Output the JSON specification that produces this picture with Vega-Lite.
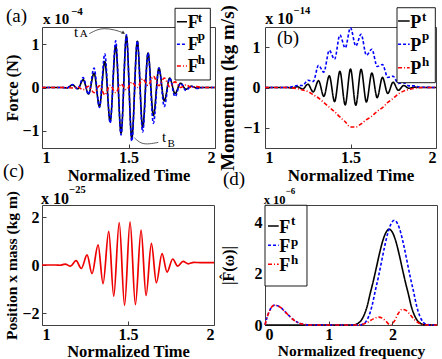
{
  "$schema": "https://vega.github.io/schema/vega-lite/v6.json",
  "background": "white",
  "padding": 0,
  "bounds": "flush",
  "columns": 2,
  "spacing": {"row": 57, "column": 50},
  "resolve": {"scale": {"color": "independent", "strokeDash": "independent"}},
  "datasets": {
    "fa": [
      {"s":"Fᵗ","t":1.0,"v":0},{"s":"Fᵗ","t":1.12,"v":0},{"s":"Fᵗ","t":1.145,"v":-0.01},{"s":"Fᵗ","t":1.176,"v":0.06},{"s":"Fᵗ","t":1.207,"v":-0.03},{"s":"Fᵗ","t":1.238,"v":0.18},{"s":"Fᵗ","t":1.269,"v":-0.15},{"s":"Fᵗ","t":1.301,"v":0.33},{"s":"Fᵗ","t":1.332,"v":-0.44},{"s":"Fᵗ","t":1.363,"v":0.6},{"s":"Fᵗ","t":1.394,"v":-0.79},{"s":"Fᵗ","t":1.426,"v":0.97},{"s":"Fᵗ","t":1.457,"v":-1.06},{"s":"Fᵗ","t":1.488,"v":1.19},{"s":"Fᵗ","t":1.519,"v":-1.18},{"s":"Fᵗ","t":1.551,"v":1.07},{"s":"Fᵗ","t":1.582,"v":-0.93},{"s":"Fᵗ","t":1.613,"v":0.8},{"s":"Fᵗ","t":1.644,"v":-0.65},{"s":"Fᵗ","t":1.676,"v":0.45},{"s":"Fᵗ","t":1.707,"v":-0.31},{"s":"Fᵗ","t":1.738,"v":0.22},{"s":"Fᵗ","t":1.769,"v":-0.14},{"s":"Fᵗ","t":1.801,"v":0.1},{"s":"Fᵗ","t":1.832,"v":-0.04},{"s":"Fᵗ","t":1.863,"v":0.03},{"s":"Fᵗ","t":1.894,"v":-0.01},{"s":"Fᵗ","t":1.93,"v":0},{"s":"Fᵗ","t":2.0,"v":0},
      {"s":"Fᵖ","t":1.0,"v":0},{"s":"Fᵖ","t":1.12,"v":0},{"s":"Fᵖ","t":1.145,"v":-0.01},{"s":"Fᵖ","t":1.176,"v":0.07},{"s":"Fᵖ","t":1.207,"v":-0.03},{"s":"Fᵖ","t":1.238,"v":0.23},{"s":"Fᵖ","t":1.269,"v":-0.16},{"s":"Fᵖ","t":1.301,"v":0.45},{"s":"Fᵖ","t":1.332,"v":-0.46},{"s":"Fᵖ","t":1.363,"v":0.78},{"s":"Fᵖ","t":1.394,"v":-0.82},{"s":"Fᵖ","t":1.426,"v":1.08},{"s":"Fᵖ","t":1.457,"v":-1.1},{"s":"Fᵖ","t":1.488,"v":1.22},{"s":"Fᵖ","t":1.519,"v":-1.24},{"s":"Fᵖ","t":1.551,"v":1.08},{"s":"Fᵖ","t":1.582,"v":-1.03},{"s":"Fᵖ","t":1.613,"v":0.8},{"s":"Fᵖ","t":1.644,"v":-0.83},{"s":"Fᵖ","t":1.676,"v":0.45},{"s":"Fᵖ","t":1.707,"v":-0.44},{"s":"Fᵖ","t":1.738,"v":0.22},{"s":"Fᵖ","t":1.769,"v":-0.21},{"s":"Fᵖ","t":1.801,"v":0.1},{"s":"Fᵖ","t":1.832,"v":-0.07},{"s":"Fᵖ","t":1.863,"v":0.03},{"s":"Fᵖ","t":1.894,"v":-0.02},{"s":"Fᵖ","t":1.93,"v":0},{"s":"Fᵖ","t":2.0,"v":0},
      {"s":"Fʰ","t":1.0,"v":0},{"s":"Fʰ","t":1.12,"v":0},{"s":"Fʰ","t":1.176,"v":-0.01},{"s":"Fʰ","t":1.207,"v":0.01},{"s":"Fʰ","t":1.238,"v":-0.05},{"s":"Fʰ","t":1.269,"v":0.03},{"s":"Fʰ","t":1.301,"v":-0.12},{"s":"Fʰ","t":1.332,"v":0.04},{"s":"Fʰ","t":1.363,"v":-0.17},{"s":"Fʰ","t":1.394,"v":0.05},{"s":"Fʰ","t":1.426,"v":-0.12},{"s":"Fʰ","t":1.457,"v":0.08},{"s":"Fʰ","t":1.488,"v":-0.05},{"s":"Fʰ","t":1.519,"v":0.12},{"s":"Fʰ","t":1.551,"v":0.0},{"s":"Fʰ","t":1.582,"v":0.2},{"s":"Fʰ","t":1.613,"v":0.05},{"s":"Fʰ","t":1.644,"v":0.26},{"s":"Fʰ","t":1.676,"v":0.04},{"s":"Fʰ","t":1.707,"v":0.22},{"s":"Fʰ","t":1.738,"v":0.02},{"s":"Fʰ","t":1.769,"v":0.13},{"s":"Fʰ","t":1.801,"v":0.0},{"s":"Fʰ","t":1.832,"v":0.06},{"s":"Fʰ","t":1.863,"v":0.0},{"s":"Fʰ","t":1.894,"v":0.02},{"s":"Fʰ","t":1.93,"v":0},{"s":"Fʰ","t":2.0,"v":0}
    ],
    "pb": [
      {"s":"Pᵗ","t":1.0,"v":0},{"s":"Pᵗ","t":1.127,"v":0},{"s":"Pᵗ","t":1.158,"v":-0.01},{"s":"Pᵗ","t":1.189,"v":0.02},{"s":"Pᵗ","t":1.22,"v":-0.04},{"s":"Pᵗ","t":1.251,"v":0.08},{"s":"Pᵗ","t":1.282,"v":-0.11},{"s":"Pᵗ","t":1.313,"v":0.17},{"s":"Pᵗ","t":1.344,"v":-0.22},{"s":"Pᵗ","t":1.376,"v":0.29},{"s":"Pᵗ","t":1.407,"v":-0.35},{"s":"Pᵗ","t":1.438,"v":0.4},{"s":"Pᵗ","t":1.469,"v":-0.43},{"s":"Pᵗ","t":1.5,"v":0.46},{"s":"Pᵗ","t":1.531,"v":-0.44},{"s":"Pᵗ","t":1.562,"v":0.45},{"s":"Pᵗ","t":1.593,"v":-0.36},{"s":"Pᵗ","t":1.625,"v":0.36},{"s":"Pᵗ","t":1.656,"v":-0.25},{"s":"Pᵗ","t":1.687,"v":0.25},{"s":"Pᵗ","t":1.718,"v":-0.15},{"s":"Pᵗ","t":1.749,"v":0.13},{"s":"Pᵗ","t":1.78,"v":-0.07},{"s":"Pᵗ","t":1.811,"v":0.05},{"s":"Pᵗ","t":1.842,"v":-0.02},{"s":"Pᵗ","t":1.873,"v":0.01},{"s":"Pᵗ","t":1.904,"v":0},{"s":"Pᵗ","t":2.0,"v":0},
      {"s":"Pᵖ","t":1.0,"v":0},{"s":"Pᵖ","t":1.1,"v":0},{"s":"Pᵖ","t":1.158,"v":0.02},{"s":"Pᵖ","t":1.189,"v":0.05},{"s":"Pᵖ","t":1.22,"v":0.05},{"s":"Pᵖ","t":1.251,"v":0.18},{"s":"Pᵖ","t":1.282,"v":0.15},{"s":"Pᵖ","t":1.313,"v":0.55},{"s":"Pᵖ","t":1.344,"v":0.38},{"s":"Pᵖ","t":1.376,"v":0.92},{"s":"Pᵖ","t":1.407,"v":0.7},{"s":"Pᵖ","t":1.438,"v":1.3},{"s":"Pᵖ","t":1.469,"v":0.98},{"s":"Pᵖ","t":1.5,"v":1.48},{"s":"Pᵖ","t":1.531,"v":1.03},{"s":"Pᵖ","t":1.562,"v":1.32},{"s":"Pᵖ","t":1.593,"v":0.8},{"s":"Pᵖ","t":1.625,"v":0.95},{"s":"Pᵖ","t":1.656,"v":0.52},{"s":"Pᵖ","t":1.687,"v":0.57},{"s":"Pᵖ","t":1.718,"v":0.25},{"s":"Pᵖ","t":1.749,"v":0.28},{"s":"Pᵖ","t":1.78,"v":0.1},{"s":"Pᵖ","t":1.811,"v":0.12},{"s":"Pᵖ","t":1.842,"v":0.04},{"s":"Pᵖ","t":1.873,"v":0.04},{"s":"Pᵖ","t":1.904,"v":0.01},{"s":"Pᵖ","t":2.0,"v":0},
      {"s":"Pʰ","t":1.0,"v":0},{"s":"Pʰ","t":1.12,"v":0},{"s":"Pʰ","t":1.158,"v":-0.01},{"s":"Pʰ","t":1.189,"v":-0.03},{"s":"Pʰ","t":1.22,"v":-0.06},{"s":"Pʰ","t":1.251,"v":-0.1},{"s":"Pʰ","t":1.282,"v":-0.18},{"s":"Pʰ","t":1.313,"v":-0.26},{"s":"Pʰ","t":1.344,"v":-0.37},{"s":"Pʰ","t":1.376,"v":-0.49},{"s":"Pʰ","t":1.407,"v":-0.6},{"s":"Pʰ","t":1.438,"v":-0.73},{"s":"Pʰ","t":1.469,"v":-0.85},{"s":"Pʰ","t":1.5,"v":-0.98},{"s":"Pʰ","t":1.531,"v":-0.98},{"s":"Pʰ","t":1.562,"v":-0.9},{"s":"Pʰ","t":1.593,"v":-0.8},{"s":"Pʰ","t":1.625,"v":-0.71},{"s":"Pʰ","t":1.656,"v":-0.59},{"s":"Pʰ","t":1.687,"v":-0.5},{"s":"Pʰ","t":1.718,"v":-0.37},{"s":"Pʰ","t":1.749,"v":-0.27},{"s":"Pʰ","t":1.78,"v":-0.16},{"s":"Pʰ","t":1.811,"v":-0.09},{"s":"Pʰ","t":1.842,"v":-0.05},{"s":"Pʰ","t":1.873,"v":-0.02},{"s":"Pʰ","t":1.93,"v":0},{"s":"Pʰ","t":2.0,"v":0}
    ],
    "xc": [
      {"t":1.0,"v":0},{"t":1.08,"v":0},{"t":1.105,"v":-0.01},{"t":1.135,"v":0.04},{"t":1.165,"v":-0.05},{"t":1.198,"v":0.18},{"t":1.229,"v":-0.14},{"t":1.262,"v":0.42},{"t":1.291,"v":-0.36},{"t":1.326,"v":0.84},{"t":1.355,"v":-0.78},{"t":1.388,"v":1.4},{"t":1.417,"v":-1.3},{"t":1.449,"v":1.77},{"t":1.48,"v":-1.68},{"t":1.512,"v":1.8},{"t":1.543,"v":-1.65},{"t":1.576,"v":1.45},{"t":1.605,"v":-1.27},{"t":1.636,"v":0.9},{"t":1.665,"v":-0.74},{"t":1.698,"v":0.47},{"t":1.727,"v":-0.3},{"t":1.76,"v":0.25},{"t":1.789,"v":-0.05},{"t":1.82,"v":0.15},{"t":1.851,"v":0.05},{"t":1.882,"v":0.11},{"t":1.92,"v":0.1},{"t":2.0,"v":0.1}
    ],
    "sd": [
      {"s":"Fᵗ","t":0,"v":0},{"s":"Fᵗ","t":1.4,"v":0},{"s":"Fᵗ","t":1.45,"v":0.05},{"s":"Fᵗ","t":1.5,"v":0.15},{"s":"Fᵗ","t":1.55,"v":0.36},{"s":"Fᵗ","t":1.6,"v":0.7},{"s":"Fᵗ","t":1.65,"v":1.22},{"s":"Fᵗ","t":1.7,"v":1.72},{"s":"Fᵗ","t":1.75,"v":2.27},{"s":"Fᵗ","t":1.8,"v":2.83},{"s":"Fᵗ","t":1.85,"v":3.31},{"s":"Fᵗ","t":1.9,"v":3.63},{"s":"Fᵗ","t":1.95,"v":3.75},{"s":"Fᵗ","t":2.0,"v":3.63},{"s":"Fᵗ","t":2.05,"v":3.31},{"s":"Fᵗ","t":2.1,"v":2.83},{"s":"Fᵗ","t":2.15,"v":2.27},{"s":"Fᵗ","t":2.2,"v":1.72},{"s":"Fᵗ","t":2.25,"v":1.22},{"s":"Fᵗ","t":2.3,"v":0.7},{"s":"Fᵗ","t":2.35,"v":0.36},{"s":"Fᵗ","t":2.4,"v":0.15},{"s":"Fᵗ","t":2.45,"v":0.05},{"s":"Fᵗ","t":2.5,"v":0.01},{"s":"Fᵗ","t":2.7,"v":0},
      {"s":"Fᵖ","t":0,"v":0},{"s":"Fᵖ","t":0.03,"v":0.28},{"s":"Fᵖ","t":0.07,"v":0.55},{"s":"Fᵖ","t":0.11,"v":0.72},{"s":"Fᵖ","t":0.156,"v":0.78},{"s":"Fᵖ","t":0.2,"v":0.75},{"s":"Fᵖ","t":0.25,"v":0.68},{"s":"Fᵖ","t":0.3,"v":0.56},{"s":"Fᵖ","t":0.35,"v":0.43},{"s":"Fᵖ","t":0.4,"v":0.31},{"s":"Fᵖ","t":0.45,"v":0.2},{"s":"Fᵖ","t":0.5,"v":0.12},{"s":"Fᵖ","t":0.55,"v":0.06},{"s":"Fᵖ","t":0.6,"v":0.03},{"s":"Fᵖ","t":0.7,"v":0},{"s":"Fᵖ","t":1.48,"v":0},{"s":"Fᵖ","t":1.53,"v":0.03},{"s":"Fᵖ","t":1.58,"v":0.12},{"s":"Fᵖ","t":1.63,"v":0.35},{"s":"Fᵖ","t":1.68,"v":0.75},{"s":"Fᵖ","t":1.73,"v":1.33},{"s":"Fᵖ","t":1.78,"v":1.88},{"s":"Fᵖ","t":1.83,"v":2.49},{"s":"Fᵖ","t":1.88,"v":3.1},{"s":"Fᵖ","t":1.93,"v":3.62},{"s":"Fᵖ","t":1.98,"v":3.97},{"s":"Fᵖ","t":2.03,"v":4.1},{"s":"Fᵖ","t":2.08,"v":3.97},{"s":"Fᵖ","t":2.13,"v":3.62},{"s":"Fᵖ","t":2.18,"v":3.1},{"s":"Fᵖ","t":2.23,"v":2.49},{"s":"Fᵖ","t":2.28,"v":1.88},{"s":"Fᵖ","t":2.33,"v":1.33},{"s":"Fᵖ","t":2.38,"v":0.75},{"s":"Fᵖ","t":2.43,"v":0.35},{"s":"Fᵖ","t":2.48,"v":0.12},{"s":"Fᵖ","t":2.53,"v":0.03},{"s":"Fᵖ","t":2.6,"v":0},{"s":"Fᵖ","t":2.7,"v":0},
      {"s":"Fʰ","t":0,"v":0},{"s":"Fʰ","t":0.03,"v":0.28},{"s":"Fʰ","t":0.07,"v":0.55},{"s":"Fʰ","t":0.11,"v":0.72},{"s":"Fʰ","t":0.156,"v":0.78},{"s":"Fʰ","t":0.2,"v":0.75},{"s":"Fʰ","t":0.25,"v":0.68},{"s":"Fʰ","t":0.3,"v":0.56},{"s":"Fʰ","t":0.35,"v":0.43},{"s":"Fʰ","t":0.4,"v":0.31},{"s":"Fʰ","t":0.45,"v":0.2},{"s":"Fʰ","t":0.5,"v":0.12},{"s":"Fʰ","t":0.55,"v":0.06},{"s":"Fʰ","t":0.6,"v":0.03},{"s":"Fʰ","t":0.7,"v":0},{"s":"Fʰ","t":1.45,"v":0},{"s":"Fʰ","t":1.55,"v":0.04},{"s":"Fʰ","t":1.62,"v":0.12},{"s":"Fʰ","t":1.7,"v":0.24},{"s":"Fʰ","t":1.78,"v":0.31},{"s":"Fʰ","t":1.84,"v":0.27},{"s":"Fʰ","t":1.9,"v":0.14},{"s":"Fʰ","t":1.97,"v":0},{"s":"Fʰ","t":2.03,"v":0.15},{"s":"Fʰ","t":2.09,"v":0.44},{"s":"Fʰ","t":2.15,"v":0.61},{"s":"Fʰ","t":2.21,"v":0.58},{"s":"Fʰ","t":2.28,"v":0.4},{"s":"Fʰ","t":2.35,"v":0.2},{"s":"Fʰ","t":2.42,"v":0.07},{"s":"Fʰ","t":2.5,"v":0.01},{"s":"Fʰ","t":2.6,"v":0},{"s":"Fʰ","t":2.7,"v":0}
    ]
  },
  "concat": [
    {
      "width": 173, "height": 121,
      "encoding": {
        "x": {"field": "t", "type": "quantitative", "scale": {"domain": [1, 2]}, "axis": {"values": [1, 1.5, 2], "title": "Normalized Time", "titleFontSize": 16.5}},
        "y": {"field": "v", "type": "quantitative", "scale": {"domain": [-1.4, 1.4]}, "axis": {"values": [-1, 0, 1], "title": "Force (N)", "titlePadding": 1, "titleFontSize": 16.5}}
      },
      "layer": [
        {
          "data": {"values": [{"t": 0.763, "t2": 0.77, "v": 2.0017, "v2": 1.99}]},
          "mark": {"type": "rect", "fill": "transparent", "opacity": 0},
          "encoding": {"x2": {"field": "t2"}, "y2": {"field": "v2"}}
        },
        {
          "data": {"name": "fa"},
          "mark": {"type": "line", "interpolate": "monotone", "strokeWidth": 1.6},
          "encoding": {
            "color": {"field": "s", "type": "nominal", "scale": {"domain": ["Fᵗ", "Fᵖ", "Fʰ"], "range": ["#000000", "#0000ff", "#ff0000"]}, "legend": null},
            "strokeDash": {"field": "s", "type": "nominal", "scale": {"domain": ["Fᵗ", "Fᵖ", "Fʰ"], "range": [[1, 0], [3, 2], [4, 2, 1, 2]]}, "legend": null}
          }
        },
        {
          "data": {"values": [
            {"g": "A", "t": 1.273, "v": 1.245}, {"g": "A", "t": 1.32, "v": 1.345}, {"g": "A", "t": 1.36, "v": 1.37}, {"g": "A", "t": 1.42, "v": 1.34}, {"g": "A", "t": 1.476, "v": 1.255},
            {"g": "B", "t": 1.534, "v": -1.165}, {"g": "B", "t": 1.572, "v": -1.304}, {"g": "B", "t": 1.62, "v": -1.31}, {"g": "B", "t": 1.672, "v": -1.27}
          ]},
          "mark": {"type": "line", "interpolate": "basis", "color": "#333", "strokeWidth": 0.8},
          "encoding": {"detail": {"field": "g"}}
        },
        {
          "data": {"values": [{"t": 1.471, "v": 1.265}]},
          "mark": {"type": "point", "shape": "triangle-right", "angle": 30, "size": 14, "filled": true, "color": "#333", "opacity": 1}
        },
        {
          "data": {"values": [{"t": 1.769, "t2": 1.973, "v": 1.833, "v2": 0.174}]},
          "mark": {"type": "rect", "fill": "#ffffff", "stroke": "#000000", "strokeWidth": 0.9},
          "encoding": {"x2": {"field": "t2"}, "y2": {"field": "v2"}}
        },
        {
          "data": {"values": [
            {"s": "Fᵗ", "t": 1.78, "v": 1.523}, {"s": "Fᵗ", "t": 1.838, "v": 1.523},
            {"s": "Fᵖ", "t": 1.78, "v": 1.0}, {"s": "Fᵖ", "t": 1.838, "v": 1.0},
            {"s": "Fʰ", "t": 1.78, "v": 0.498}, {"s": "Fʰ", "t": 1.838, "v": 0.498}
          ]},
          "mark": {"type": "line", "strokeWidth": 1.6},
          "encoding": {
            "color": {"field": "s", "type": "nominal", "scale": {"domain": ["Fᵗ", "Fᵖ", "Fʰ"], "range": ["#000000", "#0000ff", "#ff0000"]}, "legend": null},
            "strokeDash": {"field": "s", "type": "nominal", "scale": {"domain": ["Fᵗ", "Fᵖ", "Fʰ"], "range": [[1, 0], [3, 2], [4, 2, 1, 2]]}, "legend": null}
          }
        },
        {
          "data": {"values": [{"label": "F", "t": 1.842, "v": 1.384}, {"label": "F", "t": 1.842, "v": 0.861}, {"label": "F", "t": 1.842, "v": 0.366}]},
          "mark": {"type": "text", "align": "left", "baseline": "alphabetic", "font": "Liberation Serif", "fontWeight": "bold", "fontSize": 18, "color": "#000"},
          "encoding": {"text": {"field": "label"}}
        },
        {
          "data": {"values": [{"label": "t", "t": 1.9, "v": 1.523}, {"label": "p", "t": 1.9, "v": 1.088}, {"label": "h", "t": 1.9, "v": 0.537}]},
          "mark": {"type": "text", "align": "left", "baseline": "alphabetic", "font": "Liberation Serif", "fontWeight": "bold", "fontSize": 13, "color": "#000"},
          "encoding": {"text": {"field": "label"}}
        },
        {
          "data": {"values": [{"label": "(a)", "t": 0.792, "v": 1.516}]},
          "mark": {"type": "text", "align": "left", "baseline": "alphabetic", "font": "Liberation Serif", "fontSize": 19, "color": "#000"},
          "encoding": {"text": {"field": "label"}}
        },
        {
          "data": {"values": [{"label": "x 10", "t": 1.006, "v": 1.469}]},
          "mark": {"type": "text", "align": "left", "baseline": "alphabetic", "font": "Liberation Serif", "fontWeight": "bold", "fontSize": 15, "color": "#000"},
          "encoding": {"text": {"field": "label"}}
        },
        {
          "data": {"values": [{"label": "−4", "t": 1.168, "v": 1.678}]},
          "mark": {"type": "text", "align": "left", "baseline": "alphabetic", "font": "Liberation Serif", "fontWeight": "bold", "fontSize": 11, "color": "#000"},
          "encoding": {"text": {"field": "label"}}
        },
        {
          "data": {"values": [{"label": "t", "t": 1.185, "v": 1.169}, {"label": "t", "t": 1.694, "v": -1.261}]},
          "mark": {"type": "text", "align": "left", "baseline": "alphabetic", "font": "Liberation Serif", "fontSize": 15, "color": "#000"},
          "encoding": {"text": {"field": "label"}}
        },
        {
          "data": {"values": [{"label": "A", "t": 1.218, "v": 1.169}, {"label": "B", "t": 1.725, "v": -1.377}]},
          "mark": {"type": "text", "align": "left", "baseline": "alphabetic", "font": "Liberation Serif", "fontSize": 11, "color": "#000"},
          "encoding": {"text": {"field": "label"}}
        }
      ]
    },
    {
      "width": 171, "height": 121,
      "encoding": {
        "x": {"field": "t", "type": "quantitative", "scale": {"domain": [1, 2]}, "axis": {"values": [1, 1.5, 2], "title": "Normalized Time", "titleFontSize": 17}},
        "y": {"field": "v", "type": "quantitative", "scale": {"domain": [-1.5, 1.5]}, "axis": {"values": [-1, 0, 1], "title": "Momentum (kg m/s)", "labelPadding": 9, "titlePadding": 5, "titleFontSize": 19}}
      },
      "layer": [
        {
          "data": {"name": "pb"},
          "mark": {"type": "line", "interpolate": "monotone", "strokeWidth": 1.6},
          "encoding": {
            "color": {"field": "s", "type": "nominal", "scale": {"domain": ["Pᵗ", "Pᵖ", "Pʰ"], "range": ["#000000", "#0000ff", "#ff0000"]}, "legend": null},
            "strokeDash": {"field": "s", "type": "nominal", "scale": {"domain": ["Pᵗ", "Pᵖ", "Pʰ"], "range": [[1, 0], [3, 2], [4, 2, 1, 2]]}, "legend": null}
          }
        },
        {
          "data": {"values": [{"t": 1.772, "t2": 1.996, "v": 1.978, "v2": 0.119}]},
          "mark": {"type": "rect", "fill": "#ffffff", "stroke": "#000000", "strokeWidth": 0.9},
          "encoding": {"x2": {"field": "t2"}, "y2": {"field": "v2"}}
        },
        {
          "data": {"values": [
            {"s": "Pᵗ", "t": 1.778, "v": 1.649}, {"s": "Pᵗ", "t": 1.846, "v": 1.649},
            {"s": "Pᵖ", "t": 1.778, "v": 1.071}, {"s": "Pᵖ", "t": 1.846, "v": 1.071},
            {"s": "Pʰ", "t": 1.778, "v": 0.491}, {"s": "Pʰ", "t": 1.846, "v": 0.491}
          ]},
          "mark": {"type": "line", "strokeWidth": 1.6},
          "encoding": {
            "color": {"field": "s", "type": "nominal", "scale": {"domain": ["Pᵗ", "Pᵖ", "Pʰ"], "range": ["#000000", "#0000ff", "#ff0000"]}, "legend": null},
            "strokeDash": {"field": "s", "type": "nominal", "scale": {"domain": ["Pᵗ", "Pᵖ", "Pʰ"], "range": [[1, 0], [3, 2], [4, 2, 1, 2]]}, "legend": null}
          }
        },
        {
          "data": {"values": [{"label": "P", "t": 1.85, "v": 1.468}, {"label": "P", "t": 1.85, "v": 0.905}, {"label": "P", "t": 1.85, "v": 0.327}]},
          "mark": {"type": "text", "align": "left", "baseline": "alphabetic", "font": "Liberation Serif", "fontWeight": "bold", "fontSize": 18, "color": "#000"},
          "encoding": {"text": {"field": "label"}}
        },
        {
          "data": {"values": [{"label": "t", "t": 1.918, "v": 1.649}, {"label": "p", "t": 1.918, "v": 1.178}, {"label": "h", "t": 1.918, "v": 0.533}]},
          "mark": {"type": "text", "align": "left", "baseline": "alphabetic", "font": "Liberation Serif", "fontWeight": "bold", "fontSize": 13, "color": "#000"},
          "encoding": {"text": {"field": "label"}}
        },
        {
          "data": {"values": [{"label": "(b)", "t": 1.07, "v": 1.079}]},
          "mark": {"type": "text", "align": "left", "baseline": "alphabetic", "font": "Liberation Serif", "fontSize": 19, "color": "#000"},
          "encoding": {"text": {"field": "label"}}
        },
        {
          "data": {"values": [{"label": "x 10", "t": 1.002, "v": 1.567}]},
          "mark": {"type": "text", "align": "left", "baseline": "alphabetic", "font": "Liberation Serif", "fontWeight": "bold", "fontSize": 16, "color": "#000"},
          "encoding": {"text": {"field": "label"}}
        },
        {
          "data": {"values": [{"label": "−14", "t": 1.168, "v": 1.815}]},
          "mark": {"type": "text", "align": "left", "baseline": "alphabetic", "font": "Liberation Serif", "fontWeight": "bold", "fontSize": 10.5, "color": "#000"},
          "encoding": {"text": {"field": "label"}}
        }
      ]
    },
    {
      "width": 172, "height": 120,
      "encoding": {
        "x": {"field": "t", "type": "quantitative", "scale": {"domain": [1, 2]}, "axis": {"values": [1, 1.5, 2], "title": "Normalized Time", "titleFontSize": 16.5, "titlePadding": 1}},
        "y": {"field": "v", "type": "quantitative", "scale": {"domain": [-2.5, 2.5]}, "axis": {"values": [-2, 0, 2], "title": "Position x mass (kg m)", "titlePadding": 2.5, "titleFontSize": 15.5}}
      },
      "layer": [
        {
          "data": {"name": "xc"},
          "mark": {"type": "line", "interpolate": "monotone", "strokeWidth": 1.7, "color": "#ee0000"}
        },
        {
          "data": {"values": [{"label": "(c)", "t": 0.773, "v": 3.667}]},
          "mark": {"type": "text", "align": "left", "baseline": "alphabetic", "font": "Liberation Serif", "fontSize": 19, "color": "#000"},
          "encoding": {"text": {"field": "label"}}
        },
        {
          "data": {"values": [{"label": "x 10", "t": 0.994, "v": 2.5625}]},
          "mark": {"type": "text", "align": "left", "baseline": "alphabetic", "font": "Liberation Serif", "fontWeight": "bold", "fontSize": 16, "color": "#000"},
          "encoding": {"text": {"field": "label"}}
        },
        {
          "data": {"values": [{"label": "−25", "t": 1.159, "v": 3.02}]},
          "mark": {"type": "text", "align": "left", "baseline": "alphabetic", "font": "Liberation Serif", "fontWeight": "bold", "fontSize": 10.5, "color": "#000"},
          "encoding": {"text": {"field": "label"}}
        }
      ]
    },
    {
      "width": 172, "height": 120,
      "encoding": {
        "x": {"field": "t", "type": "quantitative", "scale": {"domain": [0, 2.7]}, "axis": {"values": [0, 1, 2], "title": "Normalized frequency", "titleFontSize": 15.5, "titlePadding": 1}},
        "y": {"field": "v", "type": "quantitative", "scale": {"domain": [0, 4.7]}, "axis": {"values": [0, 2, 4], "title": "|F̂(ω)|", "titlePadding": 18, "titleFontSize": 16}}
      },
      "layer": [
        {
          "data": {"name": "sd"},
          "mark": {"type": "line", "interpolate": "monotone", "strokeWidth": 1.6},
          "encoding": {
            "color": {"field": "s", "type": "nominal", "scale": {"domain": ["Fᵗ", "Fᵖ", "Fʰ"], "range": ["#000000", "#0000ff", "#ff0000"]}, "legend": null},
            "strokeDash": {"field": "s", "type": "nominal", "scale": {"domain": ["Fᵗ", "Fᵖ", "Fʰ"], "range": [[1, 0], [3, 2], [4, 2, 1, 2]]}, "legend": null}
          }
        },
        {
          "data": {"values": [{"t": 0.0, "t2": 0.659, "v": 4.69, "v2": 1.527}]},
          "mark": {"type": "rect", "fill": "#ffffff", "stroke": "#000000", "strokeWidth": 0.9},
          "encoding": {"x2": {"field": "t2"}, "y2": {"field": "v2"}}
        },
        {
          "data": {"values": [
            {"s": "Fᵗ", "t": 0.047, "v": 3.877}, {"s": "Fᵗ", "t": 0.215, "v": 3.877},
            {"s": "Fᵖ", "t": 0.047, "v": 3.122}, {"s": "Fᵖ", "t": 0.215, "v": 3.122},
            {"s": "Fʰ", "t": 0.047, "v": 2.377}, {"s": "Fʰ", "t": 0.215, "v": 2.377}
          ]},
          "mark": {"type": "line", "strokeWidth": 1.6},
          "encoding": {
            "color": {"field": "s", "type": "nominal", "scale": {"domain": ["Fᵗ", "Fᵖ", "Fʰ"], "range": ["#000000", "#0000ff", "#ff0000"]}, "legend": null},
            "strokeDash": {"field": "s", "type": "nominal", "scale": {"domain": ["Fᵗ", "Fᵖ", "Fʰ"], "range": [[1, 0], [3, 2], [4, 2, 1, 2]]}, "legend": null}
          }
        },
        {
          "data": {"values": [{"label": "F", "t": 0.225, "v": 3.615}, {"label": "F", "t": 0.225, "v": 2.859}, {"label": "F", "t": 0.225, "v": 2.115}]},
          "mark": {"type": "text", "align": "left", "baseline": "alphabetic", "font": "Liberation Serif", "fontWeight": "bold", "fontSize": 18, "color": "#000"},
          "encoding": {"text": {"field": "label"}}
        },
        {
          "data": {"values": [{"label": "t", "t": 0.408, "v": 3.905}, {"label": "p", "t": 0.408, "v": 3.094}, {"label": "h", "t": 0.408, "v": 2.377}]},
          "mark": {"type": "text", "align": "left", "baseline": "alphabetic", "font": "Liberation Serif", "fontWeight": "bold", "fontSize": 13, "color": "#000"},
          "encoding": {"text": {"field": "label"}}
        },
        {
          "data": {"values": [{"label": "(d)", "t": -0.659, "v": 5.483}]},
          "mark": {"type": "text", "align": "left", "baseline": "alphabetic", "font": "Liberation Serif", "fontSize": 19, "color": "#000"},
          "encoding": {"text": {"field": "label"}}
        },
        {
          "data": {"values": [{"label": "x 10", "t": -0.02, "v": 4.74}]},
          "mark": {"type": "text", "align": "left", "baseline": "alphabetic", "font": "Liberation Serif", "fontWeight": "bold", "fontSize": 12.5, "color": "#000"},
          "encoding": {"text": {"field": "label"}}
        },
        {
          "data": {"values": [{"label": "−6", "t": 0.322, "v": 5.13}]},
          "mark": {"type": "text", "align": "left", "baseline": "alphabetic", "font": "Liberation Serif", "fontWeight": "bold", "fontSize": 9, "color": "#000"},
          "encoding": {"text": {"field": "label"}}
        }
      ]
    }
  ],
  "config": {
    "view": {"stroke": "#404040", "strokeWidth": 1},
    "font": "Liberation Serif",
    "axis": {"grid": false, "domain": false, "tickSize": -4, "tickColor": "#404040", "tickWidth": 1, "format": "~g", "labelFont": "Liberation Serif", "labelFontWeight": "bold", "labelFontSize": 16, "labelColor": "#000", "titleFont": "Liberation Serif", "titleFontWeight": "bold", "titleColor": "#000"},
    "axisX": {"labelPadding": 5, "titlePadding": 2},
    "axisY": {"labelPadding": 7}
  }
}
